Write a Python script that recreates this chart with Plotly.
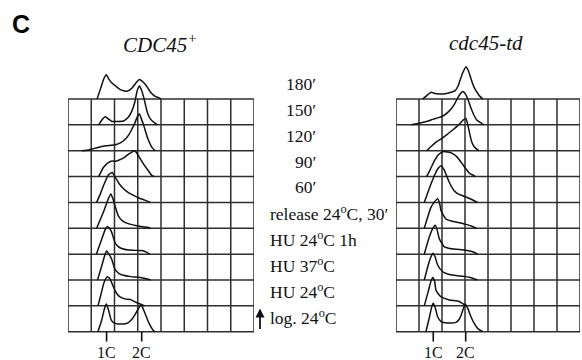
import plotly.graph_objects as go

# ---------------- data (x in grid-column units, h in grid-row units) ----------------
ROW_LABELS = ["log. 24<sup>o</sup>C", "HU 24<sup>o</sup>C", "HU 37<sup>o</sup>C",
              "HU 24<sup>o</sup>C 1h", "release 24<sup>o</sup>C, 30′",
              "60′", "90′", "120′", "150′", "180′"]
PANEL_TITLES = ["<i>CDC45<sup>+</sup></i>", "<i>cdc45-td</i>"]
TICK_LABELS = ["1C", "2C"]
WT_TICK_X = [1.66, 3.17]
TD_TICK_X = [1.62, 3.03]

# CDC45+ histograms
wt_log = [(1.29,0),(1.45,0.45),(1.57,0.9),(1.65,1.07),(1.74,0.85),(1.86,0.45),(2.0,0.33),(2.15,0.3),
          (2.4,0.3),(2.58,0.34),(2.75,0.48),(2.87,0.64),(3.0,0.85),(3.15,1.03),(3.25,0.85),(3.37,0.58),
          (3.5,0.3),(3.66,0.06),(3.75,0)]
wt_hu24 = [(1.29,0),(1.42,0.45),(1.55,0.9),(1.68,1.12),(1.8,1.05),(1.9,0.85),(2.01,0.62),(2.12,0.45),
           (2.22,0.36),(2.45,0.27),(2.72,0.23),(2.9,0.15),(3.08,0.08),(3.3,0)]
wt_hu37 = [(1.27,0),(1.45,0.54),(1.58,0.95),(1.66,1.12),(1.76,1.0),(1.88,0.8),(2.02,0.41),(2.2,0.25),
           (2.38,0.18),(2.7,0.13),(3.1,0.1),(3.4,0.04),(3.55,0)]
wt_hu1h = [(1.22,0),(1.45,0.58),(1.6,0.95),(1.69,1.07),(1.8,0.98),(1.88,0.84),(2.02,0.45),(2.15,0.3),
           (2.31,0.22),(2.6,0.16),(2.81,0.15),(3.05,0.14),(3.24,0.13),(3.4,0.06),(3.53,0)]
wt_rel30 = [(1.23,0),(1.52,0.62),(1.73,1.13),(1.84,1.33),(1.93,1.15),(2.02,0.87),(2.16,0.49),(2.3,0.32),
            (2.45,0.23),(2.7,0.15),(2.95,0.1),(3.2,0.06),(3.45,0.03),(3.55,0)]
wt_60 = [(1.23,0),(1.4,0.35),(1.55,0.7),(1.73,1.05),(1.9,1.16),(2.05,0.95),(2.2,0.72),(2.4,0.52),
         (2.6,0.38),(2.8,0.28),(3.05,0.17),(3.3,0.09),(3.55,0)]
wt_90 = [(1.32,0),(1.53,0.36),(1.75,0.55),(1.9,0.6),(2.04,0.59),(2.2,0.64),(2.39,0.72),(2.61,0.87),
         (2.87,1.0),(2.98,0.88),(3.11,0.68),(3.25,0.48),(3.4,0.29),(3.61,0.04),(3.7,0)]
wt_120 = [(0.6,0),(0.9,0.03),(1.1,0.08),(1.32,0.13),(1.61,0.19),(1.85,0.21),(2.04,0.23),(2.25,0.3),
          (2.47,0.45),(2.62,0.62),(2.75,0.84),(2.88,1.08),(2.97,1.29),(3.07,1.42),(3.16,1.22),(3.26,0.97),
          (3.35,0.7),(3.44,0.45),(3.61,0.13),(3.75,0)]
wt_150 = [(1.32,0),(1.45,0.18),(1.61,0.31),(1.75,0.22),(1.89,0.13),(2.1,0.13),(2.39,0.15),(2.6,0.3),
          (2.75,0.54),(2.88,0.9),(2.97,1.3),(3.07,1.5),(3.16,1.35),(3.26,1.05),(3.35,0.7),(3.44,0.41),
          (3.55,0.22),(3.69,0.1),(3.85,0)]
wt_180 = [(1.25,0),(1.4,0.4),(1.55,0.8),(1.65,0.94),(1.75,0.78),(1.89,0.62),(2.05,0.5),(2.25,0.36),
          (2.54,0.3),(2.75,0.42),(2.92,0.62),(3.07,0.75),(3.2,0.68),(3.33,0.56),(3.45,0.4),(3.58,0.23),
          (3.75,0.1),(3.9,0.05),(4.0,0)]

# cdc45-td histograms
td_log = [(1.30,0),(1.45,0.55),(1.55,0.95),(1.62,1.1),(1.7,0.95),(1.81,0.58),(1.96,0.39),(2.25,0.34),
          (2.61,0.36),(2.75,0.48),(2.83,0.64),(2.93,0.9),(3.01,1.07),(3.12,0.9),(3.26,0.58),(3.4,0.32),
          (3.55,0.13),(3.77,0)]
td_hu24 = [(1.23,0),(1.4,0.55),(1.52,0.95),(1.6,1.1),(1.68,0.95),(1.74,0.6),(1.85,0.45),(1.96,0.35),
           (2.32,0.23),(2.75,0.17),(3.04,0)]
td_hu37 = [(1.23,0),(1.42,0.64),(1.52,0.9),(1.6,1.03),(1.7,0.9),(1.81,0.58),(2.03,0.32),(2.25,0.23),
           (2.46,0.19),(2.75,0.15),(3.04,0.13),(3.3,0.08),(3.55,0)]
td_hu1h = [(1.23,0),(1.45,0.67),(1.6,1.0),(1.71,1.12),(1.8,0.9),(1.88,0.6),(2.1,0.28),(2.35,0.22),
           (2.61,0.19),(3.04,0.15),(3.3,0.1),(3.55,0)]
td_rel30 = [(1.23,0),(1.52,0.81),(1.7,1.05),(1.81,1.14),(1.9,0.95),(1.96,0.68),(2.17,0.36),(2.4,0.28),
            (2.61,0.24),(3.04,0.15),(3.3,0.08),(3.5,0)]
td_60 = [(1.23,0),(1.52,0.71),(1.7,1.1),(1.81,1.29),(1.96,1.42),(2.1,1.25),(2.17,1.1),(2.32,0.77),
         (2.53,0.45),(2.7,0.33),(2.9,0.26),(3.2,0.15),(3.55,0)]
td_90 = [(1.33,0),(1.45,0.2),(1.55,0.39),(1.7,0.65),(1.84,0.84),(2.06,0.97),(2.2,0.95),(2.35,0.93),
         (2.5,0.87),(2.64,0.77),(2.86,0.52),(3.07,0.26),(3.2,0.12),(3.36,0.05),(3.45,0)]
td_120 = [(1.33,0),(1.55,0.18),(1.77,0.35),(2.0,0.48),(2.2,0.61),(2.42,0.77),(2.64,0.93),(2.8,1.07),
          (2.93,1.19),(3.04,1.25),(3.14,0.93),(3.22,0.6),(3.29,0.35),(3.4,0.15),(3.51,0.06),(3.6,0)]
td_150 = [(0.68,0),(0.9,0.04),(1.19,0.1),(1.4,0.15),(1.62,0.22),(1.85,0.28),(2.06,0.35),(2.25,0.48),
          (2.42,0.64),(2.54,0.8),(2.64,0.97),(2.78,1.18),(2.9,1.29),(3.0,1.22),(3.07,1.1),(3.18,0.85),
          (3.29,0.58),(3.4,0.35),(3.51,0.19),(3.72,0.06),(3.8,0)]
td_180 = [(1.16,0),(1.3,0.1),(1.45,0.22),(1.55,0.26),(1.65,0.22),(1.77,0.2),(2.13,0.2),(2.4,0.26),
          (2.57,0.32),(2.7,0.5),(2.78,0.71),(2.92,1.05),(3.04,1.25),(3.12,1.15),(3.22,0.9),(3.32,0.62),
          (3.43,0.39),(3.55,0.22),(3.65,0.1),(3.78,0)]

WT_ROWS = [wt_log, wt_hu24, wt_hu37, wt_hu1h, wt_rel30, wt_60, wt_90, wt_120, wt_150, wt_180]
TD_ROWS = [td_log, td_hu24, td_hu37, td_hu1h, td_rel30, td_60, td_90, td_120, td_150, td_180]

NCOLS = 8
NROWS = 9
W, H = 582, 360

# ---------------- layout geometry ----------------
Y_RANGE = [-1.094, 10.507]
Y_DOMAIN = [0.0, 300 / 360]
PANELS = [
    dict(xa="x", ya="y", dom=[68 / W, 254 / W], rows=WT_ROWS, ticks=WT_TICK_X),
    dict(xa="x2", ya="y2", dom=[396 / W, 580 / W], rows=TD_ROWS, ticks=TD_TICK_X),
]

SERIF = "Liberation Serif, Times New Roman, serif"
INK = "#111111"
GRID = "#2e2e2e"

fig = go.Figure()
shapes = []
annotations = []

for p in PANELS:
    for i, hist in enumerate(p["rows"]):
        xs = [pt[0] for pt in hist]
        ys = [i + pt[1] for pt in hist]
        fig.add_trace(go.Scatter(x=xs, y=ys, mode="lines", xaxis=p["xa"], yaxis=p["ya"],
                                 line=dict(color=INK, width=1.5, shape="spline", smoothing=0.5),
                                 hoverinfo="skip", showlegend=False))
    # grid
    for c in range(NCOLS + 1):
        shapes.append(dict(type="line", xref=p["xa"], yref=p["ya"], x0=c, x1=c, y0=0, y1=NROWS,
                           line=dict(color=GRID, width=1.5), layer="below"))
    for r in range(NROWS + 1):
        shapes.append(dict(type="line", xref=p["xa"], yref=p["ya"], x0=0, x1=NCOLS, y0=r, y1=r,
                           line=dict(color=GRID, width=1.5), layer="below"))
    # 1C / 2C ticks
    for tx, tl in zip(p["ticks"], TICK_LABELS):
        shapes.append(dict(type="line", xref=p["xa"], yref=p["ya"], x0=tx, x1=tx, y0=0, y1=-0.38,
                           line=dict(color=INK, width=1.6)))
        annotations.append(dict(xref=p["xa"], yref=p["ya"], x=tx, y=-0.8, text=tl, showarrow=False,
                                xanchor="center", yanchor="middle",
                                font=dict(family=SERIF, size=16, color=INK)))

# row labels
for i, lab in enumerate(ROW_LABELS):
    if i < 5:
        annotations.append(dict(xref="paper", yref="y", x=268 / W, y=i + 0.58, text=lab,
                                xanchor="left", yanchor="middle", showarrow=False,
                                font=dict(family=SERIF, size=17.5, color=INK)))
    else:
        annotations.append(dict(xref="paper", yref="y", x=318 / W, y=i + 0.58, text=lab,
                                xanchor="right", yanchor="middle", showarrow=False,
                                font=dict(family=SERIF, size=17.5, color=INK)))

# arrow
annotations.append(dict(xref="paper", yref="y", x=260 / W, y=0.9, ax=0, ay=22, text="",
                        showarrow=True, arrowhead=2, arrowsize=1, arrowwidth=1.8, arrowcolor=INK))

# panel titles
annotations.append(dict(xref="paper", yref="paper", x=160 / W, y=(H - 43) / H, text=PANEL_TITLES[0],
                        xanchor="center", yanchor="middle",
                        showarrow=False, font=dict(family=SERIF, size=21, color=INK)))
annotations.append(dict(xref="paper", yref="paper", x=486 / W, y=(H - 43) / H, text=PANEL_TITLES[1],
                        xanchor="center", yanchor="middle",
                        showarrow=False, font=dict(family=SERIF, size=21, color=INK)))
# panel letter
annotations.append(dict(xref="paper", yref="paper", x=20.5 / W, y=(H - 24) / H, text="<b>C</b>",
                        xanchor="center", yanchor="middle",
                        showarrow=False, font=dict(family="Liberation Sans, Arial, sans-serif", size=25,
                                                   color="#000")))

axis_common = dict(visible=False, showgrid=False, zeroline=False, fixedrange=True)
fig.update_layout(
    width=W, height=H, margin=dict(l=0, r=0, t=0, b=0),
    paper_bgcolor="white", plot_bgcolor="rgba(0,0,0,0)",
    xaxis=dict(domain=PANELS[0]["dom"], range=[0, NCOLS], anchor="y", **axis_common),
    yaxis=dict(domain=Y_DOMAIN, range=Y_RANGE, anchor="x", **axis_common),
    xaxis2=dict(domain=PANELS[1]["dom"], range=[0, NCOLS], anchor="y2", **axis_common),
    yaxis2=dict(domain=Y_DOMAIN, range=Y_RANGE, anchor="x2", **axis_common),
    shapes=shapes, annotations=annotations, showlegend=False,
)

fig.write_html("out.html", config={"displayModeBar": False},
               post_script="document.body.style.margin='0';document.body.style.overflow='hidden';")
